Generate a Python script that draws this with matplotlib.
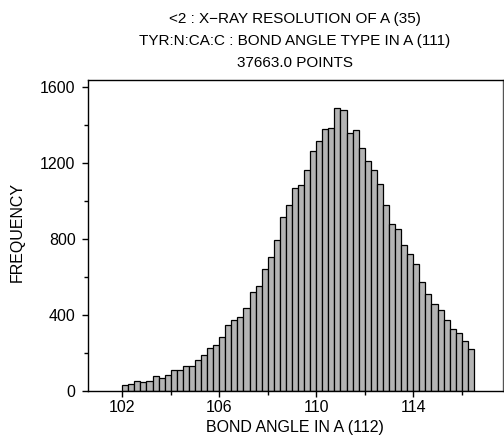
import matplotlib.pyplot as plt
import numpy as np

plt.rcParams['font.family'] = ['Liberation Sans', 'DejaVu Sans']

# histogram of bond angles, bins of 0.25 deg from 102.0 to 116.5
bin_start = 102.0
bin_width = 0.25
counts = [
    30, 35, 54, 47, 54, 77, 68, 82, 112, 112,
    133, 133, 165, 189, 228, 242, 282, 349, 374, 389,
    435, 519, 551, 642, 705, 796, 914, 977, 1070, 1084,
    1165, 1265, 1316, 1379, 1386, 1489, 1477, 1358, 1374, 1281,
    1212, 1161, 1089, 977, 877, 851, 767, 723, 667, 574,
    512, 460, 426, 372, 328, 307, 265, 221,
]
title_lines = [
    '<2 : X\u2212RAY RESOLUTION OF A (35)',
    'TYR:N:CA:C : BOND ANGLE TYPE IN A (111)',
    '37663.0 POINTS',
]
x_label = 'BOND ANGLE IN A (112)'
y_label = 'FREQUENCY'

W, H = 504, 436
edges = bin_start + bin_width * np.arange(len(counts))

fig = plt.figure(figsize=(W / 100, H / 100), dpi=100)
ax = fig.add_axes([88 / W, 1 - 391 / H, (503 - 88) / W, (391 - 80) / H])

ax.bar(edges, counts, width=bin_width, align='edge',
       color='#b4b4b4', edgecolor='black', linewidth=0.9)

ax.set_xlim(100.59, 117.7)
ax.set_ylim(0, 1637)

ax.set_xticks([102, 106, 110, 114])
ax.set_xticks([104, 108, 112, 116], minor=True)
ax.set_yticks([0, 400, 800, 1200, 1600])
ax.set_yticks([200, 600, 1000, 1400], minor=True)
ax.tick_params(which='major', direction='out', length=4.5, width=1, labelsize=11.5)
ax.tick_params(axis='x', which='major', pad=2)
ax.tick_params(axis='y', which='major', pad=4.5)
ax.tick_params(which='minor', direction='out', length=3, width=1)

for s in ax.spines.values():
    s.set_linewidth(1)
ax.spines['right'].set_color('#555555')

fig.text(295 / W, 1 - 432 / H, x_label, ha='center', va='baseline', fontsize=11.5)
fig.text(17 / W, 1 - 232 / H, y_label, ha='center', va='center', rotation=90, fontsize=11.5)

title_baselines = [23, 45, 67]
for line, yb in zip(title_lines, title_baselines):
    fig.text(295 / W, 1 - yb / H, line, ha='center', va='baseline', fontsize=11)

fig.savefig('out.png', dpi=100)
